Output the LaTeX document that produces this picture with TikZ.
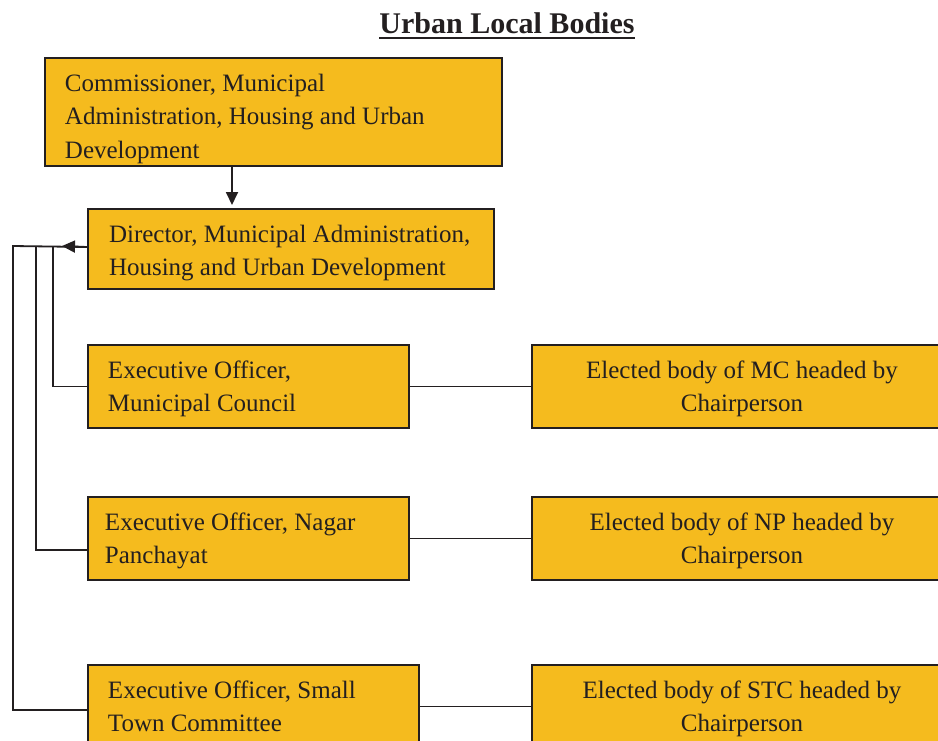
\documentclass[tikz,border=0pt]{standalone}
\usepackage{fontspec}
\setmainfont{Liberation Serif}
\usetikzlibrary{arrows.meta,calc}
\definecolor{boxfill}{HTML}{F5BB1E}
\definecolor{ink}{HTML}{231F20}
\newcommand\bxl[4]{\parbox[c][#2pt][t]{#1pt}{\raggedright\leftskip=#3pt\rule{0pt}{33pt}#4}}
\newcommand\bxc[3]{\parbox[c][#2pt][t]{#1pt}{\centering\rule{0pt}{33pt}#3}}
\tikzset{
  box/.style={draw=ink, line width=2pt, fill=boxfill, inner sep=0pt, anchor=north west,
    text=ink, font=\fontsize{25pt}{33.5pt}\selectfont},
  conn/.style={draw=ink, line width=1.8pt},
  tip/.style={-{Triangle[length=13pt,width=12pt]}}
}
\begin{document}
\begin{tikzpicture}[x=1pt,y=-1pt]
\useasboundingbox (0,0) rectangle (938,740);
\clip (0,0) rectangle (938,740);
\fill[white] (0,0) rectangle (938,740);

\node[inner sep=0pt, anchor=base, text=ink, font=\fontsize{30pt}{36pt}\selectfont\bfseries] (title) at (507,33) {Urban Local Bodies};
\draw[ink, line width=2pt] ([yshift=-4.7pt]title.base west) -- ([yshift=-4.7pt]title.base east);

\node[box] (com) at (44,57) {\bxl{457}{108}{20}{Commissioner, Municipal\\Administration, Housing and Urban\\Development}};
\node[box] (dir) at (87,208) {\bxl{406}{80}{21}{Director, Municipal Administration,\\Housing and Urban Development}};
\node[box] (eo1) at (87,344) {\bxl{321}{83}{20}{Executive Officer,\\Municipal Council}};
\node[box] (eo2) at (87,496) {\bxl{321}{83}{17}{Executive Officer, Nagar\\Panchayat}};
\node[box] (eo3) at (87,664) {\bxl{331}{83}{20}{Executive Officer, Small\\Town Committee}};
\node[box] (r1) at (531,344) {\bxc{420}{83}{Elected body of MC headed by\\Chairperson}};
\node[box] (r2) at (531,496) {\bxc{420}{83}{Elected body of NP headed by\\Chairperson}};
\node[box] (r3) at (531,664) {\bxc{420}{83}{Elected body of STC headed by\\Chairperson}};

\coordinate (ax) at (232,0);
\coordinate (railA) at (13,246);
\coordinate (railB) at (36,246);
\coordinate (railC) at (53,246);
\coordinate (arrtip) at (62,246);

\draw[conn, tip, shorten >=3pt] (com.south -| ax) -- (dir.north -| ax);

\draw[conn] ([yshift=2pt]dir.west) -- (railA) |- ([yshift=-3.5pt]eo3.west);
\draw[conn] (railB) |- ([yshift=-11.5pt]eo2.west);
\draw[conn] (railC) |- (eo1.west);
\draw[conn, tip] ([yshift=2pt]dir.west) -- (arrtip);

\draw[conn] (eo1.east) -- (r1.west);
\draw[conn] (eo2.east) -- (r2.west);
\draw[conn] (eo3.east) -- (r3.west);
\end{tikzpicture}
\end{document}
